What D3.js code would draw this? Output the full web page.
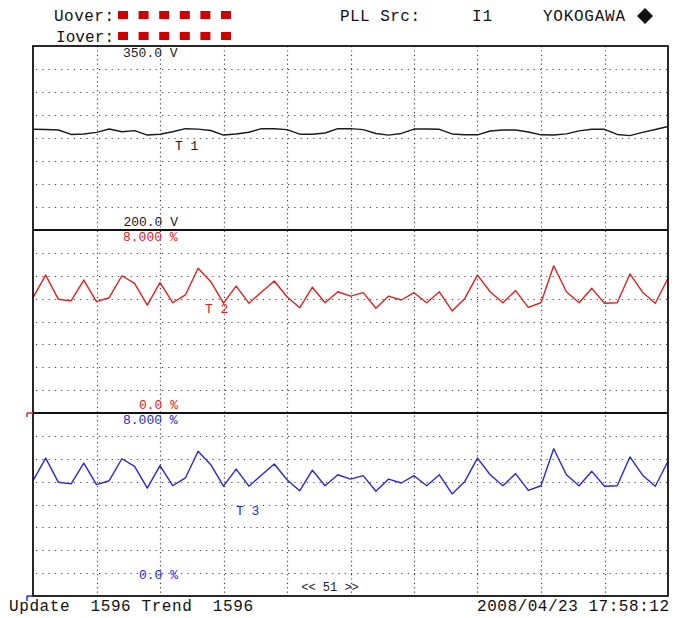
<!DOCTYPE html>
<html>
<head>
<meta charset="utf-8">
<script src="https://cdn.jsdelivr.net/npm/d3@7"></script>
<style>
  html, body { margin: 0; padding: 0; background: #fff; }
  svg { display: block; }
  text { font-family: "Liberation Mono", "DejaVu Sans Mono", monospace; }
</style>
</head>
<body>
<svg id="chart" width="686" height="618"></svg>
<script>
// ---- data ----
const trendNames = ["T 1", "T 2", "T 3"];
const t1Values = [282.1, 281.9, 281.5, 277.9, 278.3, 279.6, 282.3, 280.1, 281.0, 277.4,
  278.1, 280.1, 282.6, 282.2, 281.1, 277.4, 278.3, 279.7, 282.6, 282.5,
  281.8, 278.1, 278.0, 279.1, 282.6, 282.6, 281.8, 278.7, 277.3, 278.7,
  282.3, 282.3, 282.1, 278.3, 277.7, 277.6, 280.7, 281.5, 281.5, 279.9,
  277.6, 277.5, 278.4, 280.8, 282.1, 282.1, 277.9, 276.9, 279.6, 281.9, 284.4];
const t2Values = [5.04, 6.03, 4.97, 4.90, 5.81, 4.87, 5.04, 6.00, 5.67, 4.72,
  5.70, 4.82, 5.16, 6.33, 5.74, 4.80, 5.55, 4.80, 5.29, 5.77,
  5.08, 4.60, 5.50, 4.82, 5.30, 5.11, 5.26, 4.58, 5.11, 4.94,
  5.26, 4.82, 5.30, 4.46, 5.01, 6.03, 5.30, 4.82, 5.35, 4.62,
  4.82, 6.44, 5.30, 4.82, 5.45, 4.80, 4.82, 6.08, 5.28, 4.80, 5.89];
const t3Values = [5.04, 6.03, 4.97, 4.90, 5.81, 4.87, 5.04, 6.00, 5.67, 4.72,
  5.70, 4.82, 5.16, 6.33, 5.74, 4.80, 5.55, 4.80, 5.29, 5.77,
  5.08, 4.60, 5.50, 4.82, 5.30, 5.11, 5.26, 4.58, 5.11, 4.94,
  5.26, 4.82, 5.30, 4.46, 5.01, 6.03, 5.30, 4.82, 5.35, 4.62,
  4.82, 6.44, 5.30, 4.82, 5.45, 4.80, 4.82, 6.08, 5.28, 4.80, 5.89];
const t1Range = [200, 350];
const t2Range = [0, 8];
const t3Range = [0, 8];
const topLabels = ["350.0 V", "8.000 %", "8.000 %"];
const bottomLabels = ["200.0 V", "0.0 %", "0.0 %"];
const headerTexts = ["Uover:", "Iover:", "PLL Src:", "I1", "YOKOGAWA"];
const footerLeft = "Update  1596 Trend  1596";
const footerRight = "2008/04/23 17:58:12";
const pageLabel = "<< 51 >>";
const overFlags = [1, 1, 1, 1, 1, 1];

// ---- layout ----
const svg = d3.select("#chart");
const L = 33, R = 668, T = 46, B = 596;
const panelEdges = [46, 230, 413, 596];
const nPts = t1Values.length;

const x = d3.scaleLinear().domain([0, nPts - 1]).range([L, R]);
const xDiv = d3.scaleLinear().domain([0, 10]).range([L, R]);

const panels = [
  { vals: t1Values, range: t1Range, color: "#1a1a1a", labColor: "#1a1a1a" },
  { vals: t2Values, range: t2Range, color: "#e02020", labColor: "#e02020" },
  { vals: t3Values, range: t3Range, color: "#2828d8", labColor: "#2828d8" }
];

panels.forEach((p, i) => {
  p.y = d3.scaleLinear().domain(p.range).range([panelEdges[i + 1], panelEdges[i]]);
  p.yDiv = d3.scaleLinear().domain([0, 8]).range([panelEdges[i + 1], panelEdges[i]]);
});

// grid
const grid = svg.append("g");
panels.forEach((p, i) => {
  d3.range(1, 8).forEach(k => {
    grid.append("line")
      .attr("x1", L + 3).attr("x2", R)
      .attr("y1", Math.round(p.yDiv(k)) + 0.5).attr("y2", Math.round(p.yDiv(k)) + 0.5)
      .attr("stroke", "#444").attr("stroke-width", 1.2)
      .attr("stroke-dasharray", "1.2,5.1");
  });
});
d3.range(1, 10).forEach(k => {
  grid.append("line")
    .attr("x1", Math.round(xDiv(k)) + 0.5).attr("x2", Math.round(xDiv(k)) + 0.5)
    .attr("y1", T).attr("y2", B)
    .attr("stroke", "#444").attr("stroke-width", 1.2)
    .attr("stroke-dasharray", "1.2,3.2");
});

// traces
const line = (p) => d3.line().x((d, i) => x(i)).y(d => p.y(d));
panels.forEach(p => {
  svg.append("path")
    .datum(p.vals)
    .attr("d", line(p))
    .attr("fill", "none")
    .attr("stroke", p.color)
    .attr("stroke-width", 1.4)
    .attr("stroke-linejoin", "round");
});

// frame and panel dividers
svg.append("rect").attr("x", L).attr("y", T).attr("width", R - L).attr("height", B - T)
  .attr("fill", "none").attr("stroke", "#111").attr("stroke-width", 1.8);
[panelEdges[1], panelEdges[2]].forEach(yy => {
  svg.append("line").attr("x1", L).attr("x2", R).attr("y1", yy).attr("y2", yy)
    .attr("stroke", "#111").attr("stroke-width", 1.8);
});

// small range labels
const bottomLabelY = [226, 409, 579];
panels.forEach((p, i) => {
  svg.append("text").attr("x", 123).attr("y", panelEdges[i] + 11)
    .attr("font-size", 13).attr("fill", p.labColor).attr("xml:space", "preserve")
    .text(topLabels[i]);
  svg.append("text").attr("x", 178).attr("y", bottomLabelY[i])
    .attr("font-size", 13).attr("fill", p.labColor).attr("text-anchor", "end")
    .text(bottomLabels[i]);
});

// trend names
const namePos = [[175, 150], [205, 313], [236, 515]];
panels.forEach((p, i) => {
  svg.append("text").attr("x", namePos[i][0]).attr("y", namePos[i][1])
    .attr("font-size", 13).attr("fill", p.labColor).attr("xml:space", "preserve")
    .text(trendNames[i]);
});

// page label
svg.append("text").attr("x", 330).attr("y", 591).attr("font-size", 12)
  .attr("text-anchor", "middle").attr("fill", "#222").attr("xml:space", "preserve").text(pageLabel);

// left markers
svg.append("path").attr("d", `M27,${panelEdges[2]} H33 M27,${panelEdges[2]} v4`)
  .attr("stroke", "#e02020").attr("stroke-width", 1.5).attr("fill", "none");
svg.append("path").attr("d", `M27,${B} H33 M27,${B} v5`)
  .attr("stroke", "#2828d8").attr("stroke-width", 1.5).attr("fill", "none");

// header
const hdr = svg.append("g").attr("font-size", 16).attr("fill", "#111");
hdr.append("text").attr("x", 54).attr("y", 21).attr("textLength", 60).text(headerTexts[0]);
hdr.append("text").attr("x", 56).attr("y", 42).attr("textLength", 58).text(headerTexts[1]);
hdr.append("text").attr("x", 340).attr("y", 21).attr("textLength", 80).attr("xml:space", "preserve").text(headerTexts[2]);
hdr.append("text").attr("x", 472).attr("y", 21).attr("textLength", 20).text(headerTexts[3]);
hdr.append("text").attr("x", 543).attr("y", 21).attr("textLength", 82).text(headerTexts[4]);
svg.append("path").attr("d", "M645,8 L653,16 L645,24 L637,16 Z").attr("fill", "#111");

[15, 36].forEach(cy => {
  svg.selectAll(null).data(overFlags).enter().append("rect")
    .attr("x", (d, i) => 118 + i * 20.6).attr("y", cy - 4)
    .attr("width", 10).attr("height", 8).attr("fill", "#d00000");
});

// footer
svg.append("text").attr("x", 9).attr("y", 611).attr("font-size", 16).attr("fill", "#111")
  .attr("xml:space", "preserve").attr("textLength", 244).text(footerLeft);
svg.append("text").attr("x", 669).attr("y", 611).attr("font-size", 16).attr("fill", "#111")
  .attr("text-anchor", "end").attr("textLength", 192).text(footerRight);
</script>
</body>
</html>
